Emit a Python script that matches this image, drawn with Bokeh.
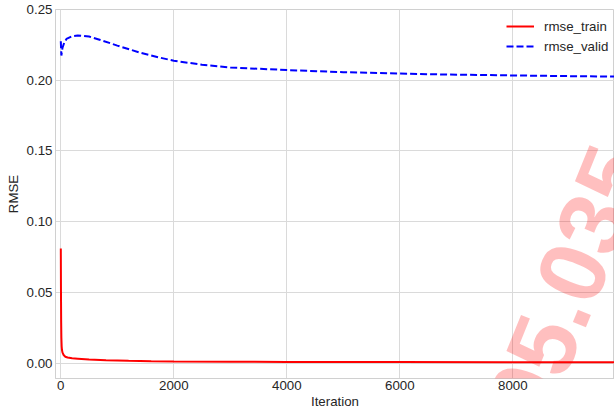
import math
from bokeh.plotting import figure
from bokeh.models import Range1d, Legend, LegendItem, Label, FixedTicker
from bokeh.embed import file_html
from bokeh.resources import INLINE

# ---- data ----
train_iter = [0, 3, 6, 10, 15, 20, 30, 50, 80, 120, 200, 300, 500, 800, 1200,
              1600, 2000, 3000, 4000, 6000, 8000, 9800]
train_rmse = [0.081, 0.050, 0.030, 0.018, 0.012, 0.0095, 0.0075, 0.0058, 0.0046,
              0.0040, 0.0035, 0.0032, 0.0026, 0.0021, 0.0017, 0.0014, 0.0012,
              0.0010, 0.0009, 0.0008, 0.0007, 0.0006]

valid_iter = [0, 5, 10, 30, 60, 100, 200, 300, 500, 700, 1000, 1400, 1750, 2000,
              2500, 3000, 4000, 5000, 6000, 6720, 8000, 9000, 9800]
valid_rmse = [0.2275, 0.222, 0.2175, 0.223, 0.2265, 0.2292, 0.2311, 0.2316, 0.2309,
              0.2285, 0.2245, 0.2195, 0.2160, 0.2138, 0.2110, 0.2090, 0.2072,
              0.2057, 0.2047, 0.2041, 0.2034, 0.2029, 0.2026]

x_ticks = [0, 2000, 4000, 6000, 8000]
y_ticks = [0.00, 0.05, 0.10, 0.15, 0.20, 0.25]

watermark_text = "05.035"

FONT = "Liberation Sans"
TXT = "#262626"
GRID = "#dadada"

X0, X1 = -94, 9800
Y0, Y1 = -0.0108, 0.25
FL, FT, FW, FH = 55, 9, 559, 369   # frame left/top/width/height in px

p = figure(width=614, height=412, output_backend="svg", toolbar_location=None,
           x_range=Range1d(X0, X1), y_range=Range1d(Y0, Y1),
           min_border_left=FL, min_border_right=0, min_border_top=FT,
           min_border_bottom=412 - FT - FH)

p.background_fill_color = "white"
p.border_fill_color = "white"
p.outline_line_color = "#d0d0d0"
p.outline_line_width = 1

for ax in (p.xaxis[0], p.yaxis[0]):
    ax.axis_line_color = "#d0d0d0"
    ax.major_tick_line_color = None
    ax.minor_tick_line_color = None
    ax.major_tick_out = 0
    ax.major_tick_in = 0
    ax.major_label_text_font = FONT
    ax.major_label_text_font_size = "13.3px"
    ax.major_label_text_color = TXT
    ax.axis_label_text_font = FONT
    ax.axis_label_text_font_size = "13.3px"
    ax.axis_label_text_font_style = "normal"
    ax.axis_label_text_color = TXT

p.xaxis.ticker = FixedTicker(ticks=x_ticks)
p.yaxis.ticker = FixedTicker(ticks=y_ticks)
p.yaxis.major_label_overrides = {t: f"{t:.2f}" for t in y_ticks}
p.xaxis.major_label_standoff = 2
p.yaxis.major_label_standoff = 3
p.xaxis.axis_label = "Iteration"
p.yaxis.axis_label = "RMSE"
p.xaxis.axis_label_standoff = 1
p.yaxis.axis_label_standoff = 3

p.xgrid.grid_line_color = GRID
p.ygrid.grid_line_color = GRID
p.xgrid.ticker = FixedTicker(ticks=x_ticks)
p.ygrid.ticker = FixedTicker(ticks=y_ticks)

r_train = p.line(train_iter, train_rmse, line_color="#ff0000", line_width=2)
r_valid = p.line(valid_iter, valid_rmse, line_color="#0000ff", line_width=2,
                 line_dash="7 3")

legend = Legend(items=[LegendItem(label="rmse_train", renderers=[r_train]),
                       LegendItem(label="rmse_valid", renderers=[r_valid])],
                location=(451, 322))
legend.border_line_color = None
legend.background_fill_alpha = 0
legend.padding = 0
legend.margin = 0
legend.spacing = 0
legend.glyph_width = 28
legend.glyph_height = 20
legend.label_height = 20
legend.label_standoff = 10
legend.label_text_font = FONT
legend.label_text_font_size = "13.3px"
legend.label_text_color = TXT
p.add_layout(legend)

# diagonal watermark overlay seen in the reference
wx, wy = 567, 284
p.add_layout(Label(x=X0 + (wx - FL) * (X1 - X0) / FW,
                   y=Y1 - (wy - FT) * (Y1 - Y0) / FH,
                   text=watermark_text, angle=math.radians(68),
                   text_font=FONT, text_font_style="bold",
                   text_font_size="94px", text_color="#ff0000",
                   text_alpha=0.25, text_baseline="middle",
                   text_align="center"))

open("out.html", "w").write(file_html(p, INLINE))
